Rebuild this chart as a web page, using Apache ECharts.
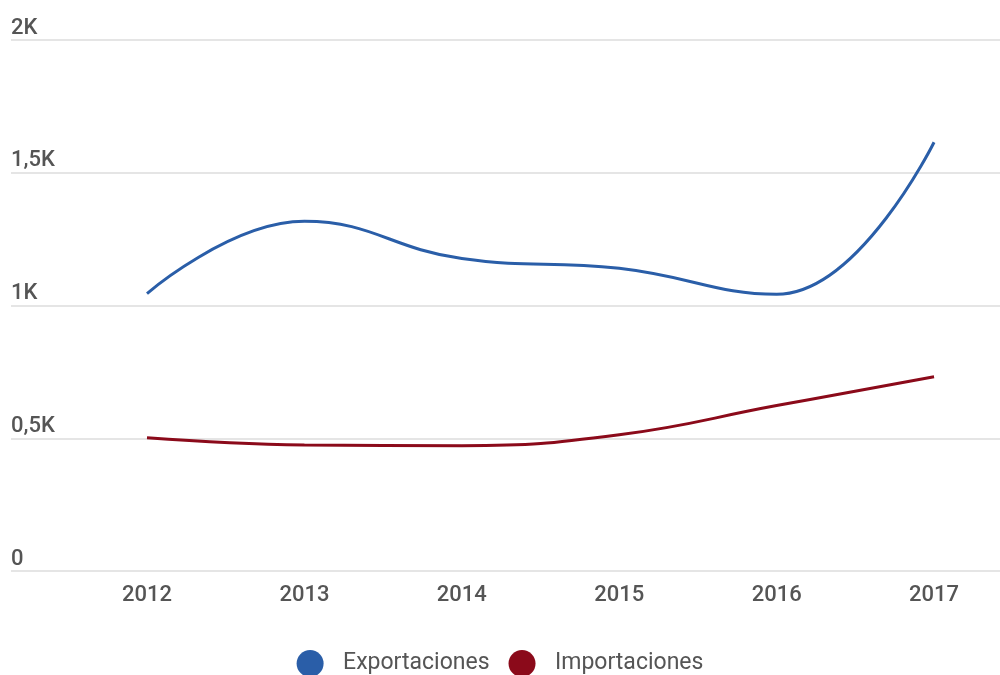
<!DOCTYPE html>
<html>
<head>
<meta charset="utf-8">
<script src="https://cdn.jsdelivr.net/npm/echarts@6/dist/echarts.min.js"></script>
<style>html,body{margin:0;padding:0;background:#fff}#c{width:1000px;height:675px}</style>
</head>
<body>
<div id="c"></div>
<script>
const categories = [2012, 2013, 2014, 2015, 2016, 2017];
const exportaciones = [1045, 1317, 1177, 1140, 1042, 1615];
const importaciones = [502, 475, 472, 513, 623, 732];
const yTicks = { min: 0, max: 2000, interval: 500 };

function fmt(v){
  if (v === 0) return '0';
  return (v/1000).toString().replace('.', ',') + 'K';
}
const pairs = arr => categories.map((c, i) => [c, arr[i]]);

const chart = echarts.init(document.getElementById('c'));
chart.setOption({
  animation: false,
  backgroundColor: '#fff',
  textStyle: { fontFamily: 'Roboto' },
  grid: { left: 11, right: 0, top: 40, bottom: 104 },
  legend: {
    left: 'center', top: 645,
    icon: 'circle', itemWidth: 28, itemHeight: 27, itemGap: 19,
    textStyle: { fontSize: 23, color: '#555', fontFamily: 'Roboto', padding: [0, 0, 0, 14] },
    data: ['Exportaciones', 'Importaciones']
  },
  xAxis: {
    type: 'value', min: 2011.136, max: 2017.419,
    axisLine: { show: false }, axisTick: { show: false }, splitLine: { show: false },
    axisLabel: { customValues: categories, color: '#555', fontSize: 22, fontWeight: 500,
      margin: 13, fontFamily: 'Roboto', formatter: v => String(v) }
  },
  yAxis: {
    type: 'value', min: yTicks.min, max: yTicks.max, interval: yTicks.interval,
    axisLine: { show: false }, axisTick: { show: false },
    splitLine: { lineStyle: { color: '#dcdcdc', width: 1.5 } },
    axisLabel: { inside: true, margin: 0, align: 'left', verticalAlign: 'bottom',
      padding: [0, 0, 1, 0], color: '#555', fontSize: 22, fontWeight: 500, fontFamily: 'Roboto', formatter: fmt }
  },
  series: [
    { name: 'Exportaciones', type: 'line', data: pairs(exportaciones),
      smooth: 0.45, symbol: 'none', color: '#2a5ea8', lineStyle: { width: 3, color: '#2a5ea8' } },
    { name: 'Importaciones', type: 'line', data: pairs(importaciones),
      smooth: 0.45, symbol: 'none', color: '#8b0a1a', lineStyle: { width: 3, color: '#8b0a1a' } }
  ]
});
</script>
</body>
</html>
